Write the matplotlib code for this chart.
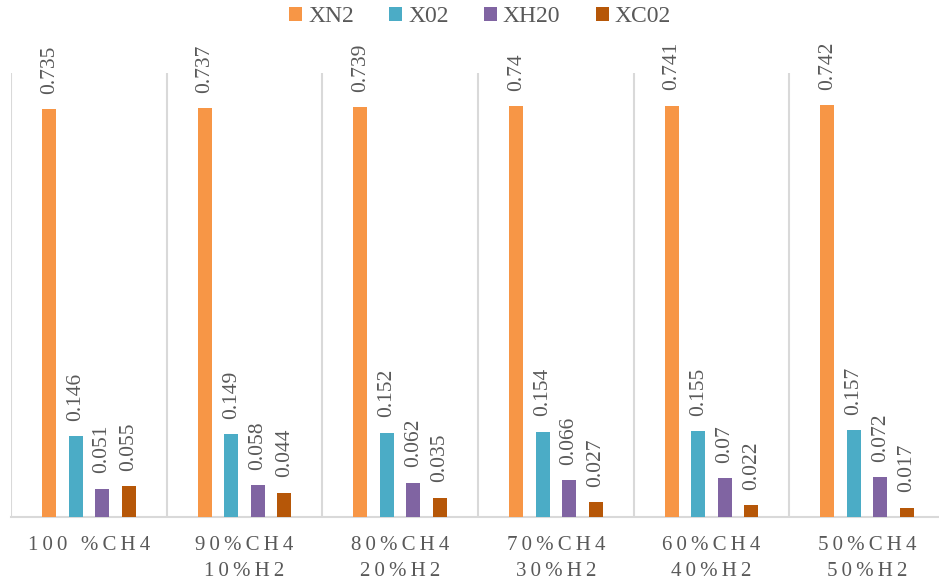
import numpy as np
import matplotlib
matplotlib.use('Agg')
import matplotlib.pyplot as plt

plt.rcParams['font.family'] = ['Liberation Serif', 'DejaVu Serif']

categories = ['100 %CH4', '90%CH4\n10%H2', '80%CH4\n20%H2',
              '70%CH4\n30%H2', '60%CH4\n40%H2', '50%CH4\n50%H2']
series_names = ['XN2', 'X02', 'XH20', 'XC02']
xn2 = [0.735, 0.737, 0.739, 0.74, 0.741, 0.742]
xo2 = [0.146, 0.149, 0.152, 0.154, 0.155, 0.157]
xh2o = [0.051, 0.058, 0.062, 0.066, 0.07, 0.072]
xco2 = [0.055, 0.044, 0.035, 0.027, 0.022, 0.017]
value_labels = [
    ['0.735', '0.737', '0.739', '0.74', '0.741', '0.742'],
    ['0.146', '0.149', '0.152', '0.154', '0.155', '0.157'],
    ['0.051', '0.058', '0.062', '0.066', '0.07', '0.072'],
    ['0.055', '0.044', '0.035', '0.027', '0.022', '0.017'],
]

colors = ['#F79646', '#4BACC6', '#8064A2', '#B65708']
text_color = '#595959'
grid_color = '#D9D9D9'


def spaced(label):
    # widen the tracking of the category labels a little
    return '\n'.join('\u2009'.join(line) for line in label.split('\n'))


W, H = 939, 583
fig = plt.figure(figsize=(W / 100, H / 100), dpi=100)
ax = fig.add_axes([11 / W, (H - 517) / H, 934 / W, 444 / H])

index = np.arange(len(categories))
bar_width = 0.09
step = 0.17
all_series = [xn2, xo2, xh2o, xco2]
for i, (name, values) in enumerate(zip(series_names, all_series)):
    xs = index + (i - 1.5) * step
    ax.bar(xs, values, bar_width, color=colors[i], label=name, zorder=3)
    for x, v, lab in zip(xs, values, value_labels[i]):
        ax.annotate(lab, (x, v), xytext=(0, 11), textcoords='offset points',
                    rotation=90, ha='center', va='bottom',
                    fontsize=15.5, color=text_color)

ax.set_xlim(-0.5, len(categories) - 0.5)
ax.set_ylim(0, 0.8)
ax.vlines(np.arange(len(categories)) - 0.5, 0, 0.8, color=grid_color,
          linewidth=1.5, zorder=1)

for side in ['top', 'right', 'left']:
    ax.spines[side].set_visible(False)
ax.spines['bottom'].set_color(grid_color)
ax.spines['bottom'].set_linewidth(1.5)
ax.set_yticks([])
ax.set_xticks(index)
ax.set_xticklabels([spaced(c) for c in categories], fontsize=15,
                   color=text_color, linespacing=1.45)
ax.tick_params(axis='x', length=0, pad=14)

leg = fig.legend(loc='center', bbox_to_anchor=(480 / W, 1 - 17 / H), ncol=4,
                 frameon=False, fontsize=17, handlelength=0.55,
                 handleheight=0.55, handletextpad=0.25, columnspacing=1.5)
for t in leg.get_texts():
    t.set_color(text_color)

plt.savefig('out.png', dpi=100)
